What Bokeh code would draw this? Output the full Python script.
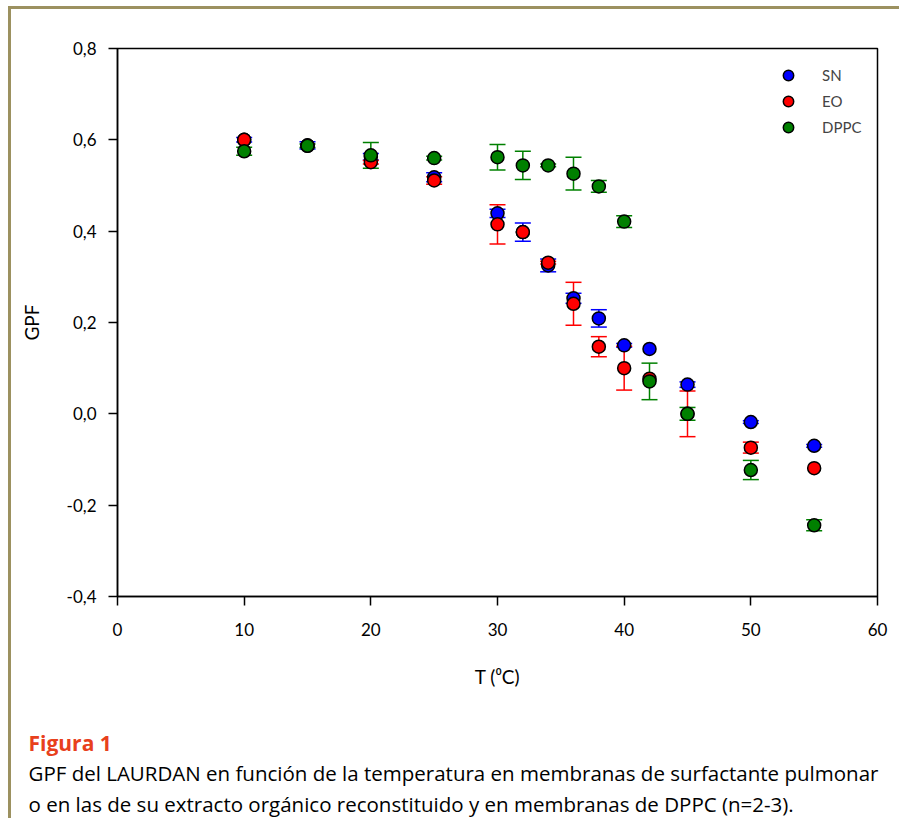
from bokeh.plotting import figure
from bokeh.models import (ColumnDataSource, Whisker, TeeHead, Range1d, FixedTicker,
                          Legend, LegendItem, Title)
from bokeh.embed import file_html
from bokeh.resources import INLINE

# ---- data ----
T_SN = [10, 15, 20, 25, 30, 32, 34, 36, 38, 40, 42, 45, 50, 55]
SN = [0.600, 0.588, 0.563, 0.518, 0.439, 0.398, 0.325, 0.253, 0.209, 0.150, 0.142, 0.064, -0.018, -0.070]
SN_err = [0.005, 0.008, 0.007, 0.010, 0.009, 0.020, 0.014, 0.011, 0.019, 0.004, 0.0, 0.006, 0.003, 0.003]

T_EO = [10, 15, 20, 25, 30, 32, 34, 36, 38, 40, 42, 45, 50, 55]
EO = [0.600, 0.587, 0.551, 0.511, 0.415, 0.398, 0.331, 0.241, 0.147, 0.100, 0.077, 0.000, -0.074, -0.119]
EO_err = [0.0, 0.0, 0.004, 0.008, 0.043, 0.0, 0.003, 0.047, 0.022, 0.048, 0.0, 0.050, 0.012, 0.0]

T_DPPC = [10, 15, 20, 25, 30, 32, 34, 36, 38, 40, 42, 45, 50, 55]
DPPC = [0.575, 0.587, 0.566, 0.560, 0.562, 0.544, 0.544, 0.526, 0.498, 0.421, 0.071, 0.000, -0.123, -0.244]
DPPC_err = [0.009, 0.004, 0.028, 0.004, 0.028, 0.031, 0.003, 0.036, 0.013, 0.013, 0.040, 0.014, 0.021, 0.012]

series_names = ["SN", "EO", "DPPC"]
series_colors = ["#0000ff", "#ff0000", "#008000"]

y_ticks = [-0.4, -0.2, 0.0, 0.2, 0.4, 0.6, 0.8]
y_tick_labels = ["-0,4", "-0,2", "0,0", "0,2", "0,4", "0,6", "0,8"]
x_ticks = [0, 10, 20, 30, 40, 50, 60]

caption_title = "Figura 1"
caption_1 = "GPF del LAURDAN en función de la temperatura en membranas de surfactante pulmonar"
caption_2 = "o en las de su extracto orgánico reconstituido y en membranas de DPPC (n=2-3)."

FONT = "Lato"
CAP_FONT = "Open Sans"

p = figure(width=891, height=812, output_backend="svg", toolbar_location=None,
           x_range=Range1d(0, 60), y_range=Range1d(-0.4, 0.8),
           min_border_left=106, min_border_right=25, min_border_top=39, min_border_bottom=225,
           styles={"border-left": "3px solid #9c9160", "border-top": "3px solid #9c9160",
                   "margin-left": "8px", "margin-top": "6px"})
p.xgrid.visible = False
p.ygrid.visible = False
p.outline_line_color = "black"
p.outline_line_width = 1.5
p.outline_line_alpha = 1.0

for ax in (p.xaxis[0], p.yaxis[0]):
    ax.axis_line_width = 1.5
    ax.major_tick_line_width = 1.5
    ax.major_tick_in = 0
    ax.major_tick_out = 9
    ax.minor_tick_line_color = None
    ax.major_label_text_font = FONT
    ax.major_label_text_font_size = "17px"
    ax.major_label_text_color = "black"
    ax.axis_label_text_font = FONT
    ax.axis_label_text_font_size = "19px"
    ax.axis_label_text_font_style = "normal"
    ax.axis_label_text_color = "black"

p.yaxis.ticker = FixedTicker(ticks=y_ticks)
p.yaxis.major_label_overrides = {t: l for t, l in zip(y_ticks, y_tick_labels)}
p.yaxis.major_label_standoff = 12
p.yaxis.axis_label = "GPF"
p.yaxis.axis_label_standoff = 21
p.xaxis.ticker = FixedTicker(ticks=x_ticks)
p.xaxis.major_label_standoff = 17
p.xaxis.axis_label = "T (\u2070C)"
p.xaxis.axis_label_standoff = 26

for name, color, xs, ys, es in zip(series_names, series_colors,
                                   [T_SN, T_EO, T_DPPC], [SN, EO, DPPC],
                                   [SN_err, EO_err, DPPC_err]):
    wx = [x for x, e in zip(xs, es) if e > 0]
    wl = [y - e for y, e in zip(ys, es) if e > 0]
    wu = [y + e for y, e in zip(ys, es) if e > 0]
    wsrc = ColumnDataSource(dict(x=wx, lower=wl, upper=wu))
    w = Whisker(source=wsrc, base="x", lower="lower", upper="upper", dimension="height",
                line_color=color, line_width=1.5,
                upper_head=TeeHead(size=16, line_color=color, line_width=1.5),
                lower_head=TeeHead(size=16, line_color=color, line_width=1.5))
    p.add_layout(w)

renderers = []
for name, color, xs, ys in zip(series_names, series_colors,
                               [T_SN, T_EO, T_DPPC], [SN, EO, DPPC]):
    src = ColumnDataSource(dict(x=xs, y=ys))
    r = p.scatter("x", "y", source=src, size=13, fill_color=color,
                  line_color="black", line_width=1.5)
    renderers.append((name, r))

legend = Legend(items=[LegendItem(label=n, renderers=[r]) for n, r in renderers],
                location=(658, 456), padding=0, spacing=0, glyph_width=26, glyph_height=26,
                label_standoff=21, label_text_font=FONT, label_text_font_size="15px",
                border_line_alpha=0, background_fill_alpha=0)
p.add_layout(legend)

spacer = Title(text=" ", align="left", text_font=CAP_FONT, text_font_size="19px", standoff=8)
t1 = Title(text=caption_title, align="left", offset=-89, text_font=CAP_FONT,
           text_font_size="21px", text_font_style="bold", text_color="#e8401c", standoff=0)
t2 = Title(text=caption_1, align="left", offset=-89, text_font=CAP_FONT,
           text_font_size="20.5px", text_font_style="normal", text_color="black", standoff=1)
t3 = Title(text=caption_2, align="left", offset=-89, text_font=CAP_FONT,
           text_font_size="20.5px", text_font_style="normal", text_color="black", standoff=0)
p.add_layout(spacer, "below")
p.add_layout(t1, "below")
p.add_layout(t2, "below")
p.add_layout(t3, "below")

open("out.html", "w").write(file_html(p, INLINE))
